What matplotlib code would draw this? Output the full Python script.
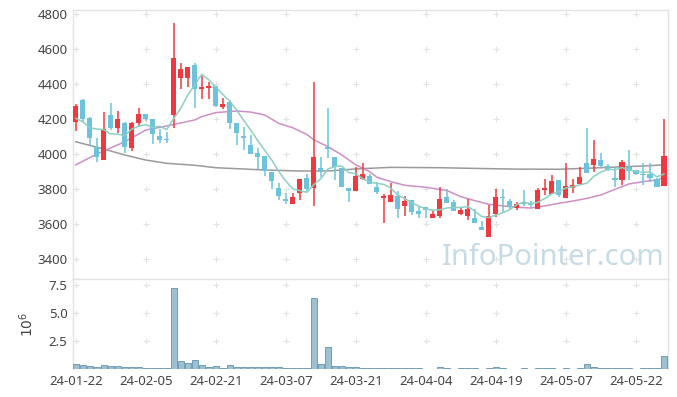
import numpy as np
import pandas as pd
import matplotlib
matplotlib.use('Agg')
import matplotlib.pyplot as plt

plt.rcParams['font.family'] = ['Noto Sans', 'DejaVu Sans']

# trading days (KRX holidays removed)
HOLIDAYS = ['2024-02-09', '2024-02-12', '2024-03-01', '2024-04-10',
            '2024-05-01', '2024-05-06', '2024-05-15']
dates = pd.bdate_range('2024-01-22', '2024-05-28', freq='C', holidays=HOLIDAYS)

opens = [4185, 4309, 4206, 4042, 3965, 4221, 4151, 4175, 4036, 4175,
         4227, 4200, 4103, 4086, 4225, 4437, 4437, 4508, 4370, 4376,
         4389, 4271, 4296, 4175, 4105, 4051, 4005, 3990, 3897, 3805,
         3742, 3711, 3774, 3860, 3807, 3918, 4040, 3981, 3918, 3803,
         3790, 3855, 3872, 3811, 3749, 3726, 3761, 3704, 3736, 3673,
         3694, 3635, 3646, 3751, 3723, 3658, 3646, 3633, 3579, 3526,
         3654, 3755, 3730, 3688, 3721, 3711, 3683, 3791, 3772, 3851,
         3749, 3803, 3828, 3946, 3937, 3963, 3933, 3860, 3851, 3927,
         3908, 3885, 3885, 3858, 3818]
highs = [4286, 4317, 4210, 4091, 4238, 4290, 4244, 4183, 4183, 4261,
         4230, 4200, 4143, 4128, 4748, 4519, 4498, 4519, 4447, 4414,
         4389, 4319, 4309, 4175, 4156, 4109, 4032, 3990, 3897, 3832,
         3778, 3778, 3856, 3885, 4414, 3981, 4265, 3981, 3918, 3803,
         3927, 3946, 3885, 3841, 3770, 3831, 3789, 3761, 3736, 3698,
         3694, 3671, 3809, 3797, 3736, 3694, 3744, 3684, 3614, 3707,
         3797, 3797, 3742, 3726, 3793, 3732, 3803, 3858, 3879, 3851,
         3946, 3858, 3927, 4147, 4080, 4003, 3940, 3927, 3965, 4022,
         3908, 3946, 3946, 3862, 4198]
lows = [4133, 4185, 4045, 3956, 3965, 4137, 4122, 4004, 4019, 4156,
        4190, 4057, 4061, 4065, 4147, 4370, 4382, 4265, 4317, 4315,
        4270, 4256, 4141, 4049, 4023, 4000, 3912, 3874, 3797, 3736,
        3713, 3711, 3734, 3784, 3702, 3870, 3975, 3851, 3813, 3727,
        3790, 3851, 3826, 3770, 3602, 3726, 3631, 3646, 3650, 3635,
        3635, 3635, 3631, 3719, 3673, 3650, 3621, 3602, 3566, 3526,
        3637, 3660, 3686, 3679, 3702, 3698, 3683, 3765, 3772, 3755,
        3749, 3774, 3828, 3889, 3898, 3917, 3902, 3812, 3822, 3851,
        3880, 3822, 3841, 3812, 3818]
closes = [4275, 4200, 4093, 3984, 4143, 4151, 4200, 4042, 4175, 4227,
          4198, 4116, 4078, 4078, 4548, 4485, 4498, 4370, 4382, 4389,
          4277, 4286, 4179, 4122, 4093, 4000, 3984, 3900, 3847, 3761,
          3733, 3753, 3856, 3797, 3981, 3902, 4031, 3927, 3813, 3790,
          3874, 3885, 3826, 3784, 3757, 3765, 3686, 3728, 3669, 3658,
          3679, 3654, 3740, 3719, 3673, 3679, 3684, 3602, 3566, 3644,
          3753, 3749, 3694, 3711, 3711, 3705, 3793, 3805, 3847, 3765,
          3816, 3822, 3868, 3889, 3969, 3931, 3906, 3851, 3952, 3904,
          3885, 3879, 3862, 3812, 3988]
# volume, millions of shares
volume = [0.45, 0.36, 0.27, 0.18, 0.36, 0.27, 0.27, 0.18, 0.18, 0.18,
          0.09, 0.09, 0.09, 0.09, 7.24, 0.72, 0.54, 0.80, 0.36, 0.18,
          0.27, 0.06, 0.36, 0.18, 0.18, 0.18, 0.18, 0.18, 0.18, 0.18,
          0.09, 0.09, 0.09, 0.09, 6.35, 0.45, 1.97, 0.27, 0.24, 0.18,
          0.18, 0.09, 0.09, 0.09, 0.09, 0.09, 0.09, 0.09, 0.09, 0.09,
          0.03, 0.03, 0.18, 0.09, 0.03, 0.09, 0.09, 0.09, 0.03, 0.09,
          0.18, 0.09, 0.03, 0.03, 0.09, 0.03, 0.09, 0.09, 0.09, 0.03,
          0.09, 0.03, 0.09, 0.45, 0.18, 0.09, 0.09, 0.09, 0.09, 0.09,
          0.03, 0.09, 0.09, 0.09, 1.16]

# 5-day MA: first values need closes before the window
ma5_head = [4204, 4185, 4150, 4143]
# 20-day and long MA
ma20_idx = [0, 3, 7, 10, 13, 17, 18, 20, 23, 25, 27, 29, 31, 33, 34, 36, 38,
            40, 42, 43, 45, 47, 50, 53, 55, 57, 59, 61, 63, 65, 67, 69, 71,
            73, 75, 77, 79, 81, 83, 84]
ma20 = [3937, 3999, 4070, 4137, 4160, 4195, 4214, 4237, 4246, 4240, 4223,
        4175, 4150, 4112, 4080, 4042, 3994, 3937, 3898, 3866, 3841, 3820,
        3809, 3790, 3755, 3732, 3711, 3702, 3694, 3690, 3702, 3717, 3730,
        3745, 3765, 3797, 3828, 3841, 3851, 3866]
ma_long_idx = [0, 4, 7, 10, 13, 17, 20, 27, 32, 36, 40, 45, 52, 57, 63, 69,
               75, 81, 84]
ma_long = [4070, 4028, 3994, 3965, 3946, 3935, 3921, 3908, 3902, 3902, 3914,
           3923, 3921, 3917, 3913, 3912, 3921, 3931, 3937]

UP = '#f0393e'
DOWN = '#6cc3db'
LABEL = '#444444'
BORDER = '#e3e3e3'

df = pd.DataFrame({'open': opens, 'high': highs, 'low': lows,
                   'close': closes, 'volume': volume}, index=dates)
x = np.arange(len(df))
ma5 = df['close'].rolling(5).mean().values
ma5[:4] = ma5_head

fig = plt.figure(figsize=(6.77, 3.97), dpi=100)
ax = fig.add_axes([0.1078, 0.2972, 0.8789, 0.6776])
axv = fig.add_axes([0.1078, 0.0705, 0.8789, 0.2267], sharex=ax)

up = df['close'] >= df['open']
colors = np.where(up, UP, DOWN)
body_lo = np.minimum(df['open'], df['close'])
body_h = np.maximum((df['close'] - df['open']).abs(), 5)

ax.vlines(x, df['low'], df['high'], colors=colors, linewidth=1.1, zorder=3)
ax.bar(x, body_h, bottom=body_lo, width=0.72, color=colors, zorder=4)

ax.plot(ma_long_idx, ma_long, color='#9a9a9a', lw=1.1, zorder=2)
ax.plot(ma20_idx, ma20, color='#cf8ec6', lw=1.1, zorder=2)
ax.plot(x, ma5, color='#8dcfc3', lw=1.1, zorder=5)

ax.text(0.995, 0.025, 'InfoPointer.com', transform=ax.transAxes,
        ha='right', va='bottom', fontsize=21, color='#c7dbe6', zorder=1)

axv.bar(x, df['volume'], width=0.9, color='#9dc1d3', edgecolor='#6f9db5',
        linewidth=0.7, zorder=3)

xticks = list(range(0, len(df), 10))
yticks = list(range(3400, 4801, 200))
vticks = [2.5, 5.0, 7.5]

# '+' markers at the grid crossings instead of grid lines
gx, gy = np.meshgrid(xticks, yticks)
ax.plot(gx.ravel(), gy.ravel(), '+', color='#e2e2e2', ms=4, mew=0.8, zorder=0)
gx, gy = np.meshgrid(xticks, vticks)
axv.plot(gx.ravel(), gy.ravel(), '+', color='#e2e2e2', ms=4, mew=0.8, zorder=0)

ax.set_xlim(-0.39, 84.57)
ax.set_ylim(3283, 4825)
axv.set_ylim(0, 8.0)

ax.set_yticks(yticks)
ax.set_yticklabels([str(v) for v in yticks])
axv.set_yticks(vticks)
axv.set_yticklabels(['2.5', '5.0', '7.5'])
axv.set_xticks(xticks)
axv.set_xticklabels([dates[i].strftime('%y-%m-%d') for i in xticks])
axv.set_ylabel('$10^{6}$', fontsize=10, color=LABEL, labelpad=8)

for a in (ax, axv):
    a.tick_params(length=0, labelsize=9.5, colors=LABEL, pad=4)
    for s in a.spines.values():
        s.set_color(BORDER)
        s.set_linewidth(1)
    a.set_facecolor('white')
axv.spines['bottom'].set_visible(False)
ax.tick_params(axis='x', labelbottom=False)

fig.savefig('out.png', dpi=100)
